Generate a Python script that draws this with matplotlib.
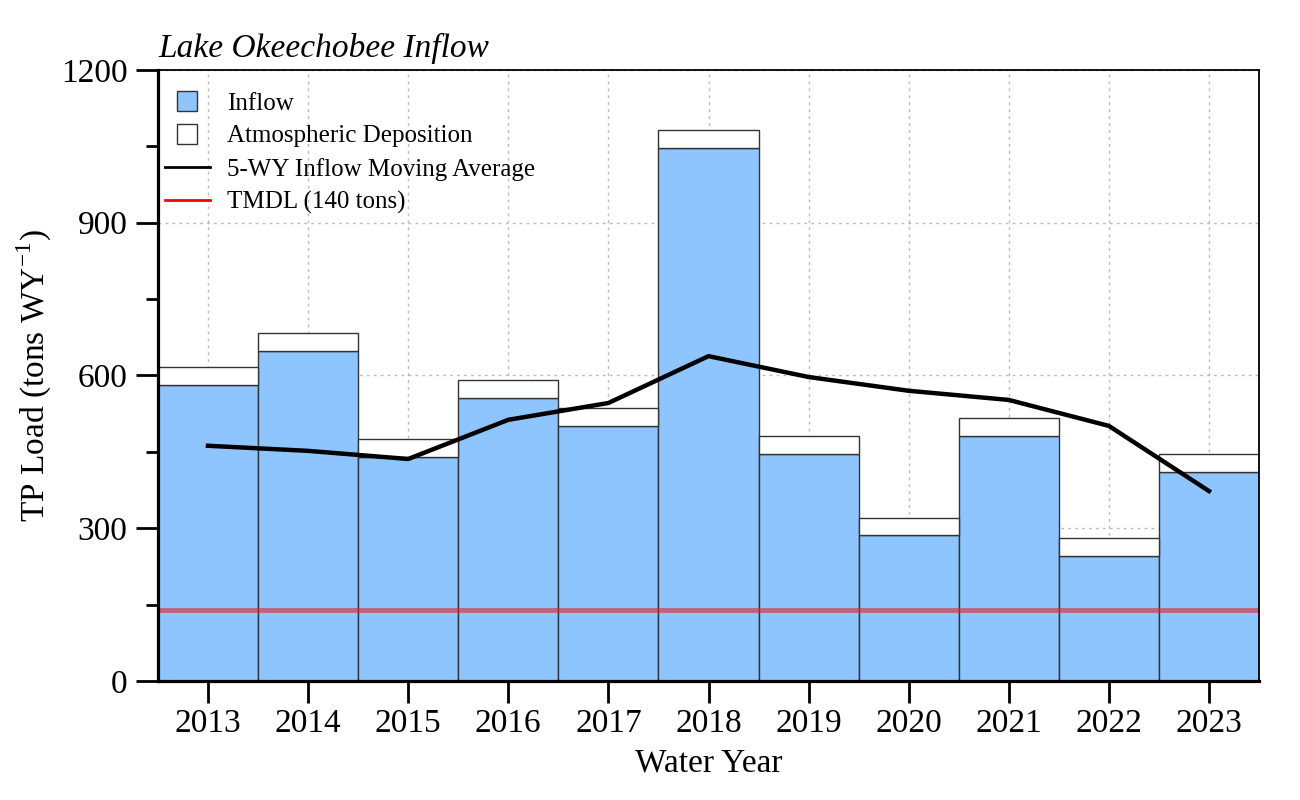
import numpy as np
import matplotlib
matplotlib.use("Agg")
import matplotlib.pyplot as plt
from matplotlib.lines import Line2D
from matplotlib.ticker import MultipleLocator

plt.rcParams["font.family"] = ["Liberation Serif", "DejaVu Serif"]
plt.rcParams["mathtext.fontset"] = "custom"
plt.rcParams["mathtext.rm"] = "Liberation Serif"

# values
years = [2013, 2014, 2015, 2016, 2017, 2018, 2019, 2020, 2021, 2022, 2023]
inflow = [581, 648, 440, 556, 501, 1047, 446, 287, 481, 245, 411]
atmos = [35, 35, 36, 35, 35, 35, 35, 34, 35, 35, 35]
moving_avg = [462, 452, 436, 513, 546, 638, 597, 570, 552, 501, 373]
tmdl = 140

fig = plt.figure(figsize=(13, 8), dpi=100)
ax = fig.add_axes([0.1215, 0.14875, 0.847, 0.76375])

ax.bar(years, inflow, width=1.0, color="#8fc5fe", edgecolor="#333333", linewidth=1.0, zorder=2)
ax.bar(years, atmos, bottom=inflow, width=1.0, color="white", edgecolor="#333333", linewidth=1.0, zorder=2)
ax.axhline(tmdl, color="#e0202a", alpha=0.6, linewidth=3.5, zorder=3)
ax.plot(years, moving_avg, color="black", linewidth=3.2, zorder=4)

ax.set_xlim(2012.5, 2023.5)
ax.set_ylim(0, 1200)
ax.set_xticks(years)
ax.yaxis.set_major_locator(MultipleLocator(300))
ax.yaxis.set_minor_locator(MultipleLocator(150))
ax.grid(True, which="major", color="#aaaaaa", linestyle=(0, (2, 3)), linewidth=1.0, alpha=0.8)
for gl in ax.get_xgridlines() + ax.get_ygridlines():
    gl.set_zorder(5)

ax.tick_params(axis="both", which="major", direction="out", length=16, width=2, labelsize=24, pad=6)
ax.tick_params(axis="y", which="minor", direction="out", length=9, width=2)
ax.tick_params(axis="x", which="major", pad=4)
for side, lw in [("left", 2.3), ("bottom", 2.3), ("top", 1.3), ("right", 1.3)]:
    ax.spines[side].set_linewidth(lw)
    ax.spines[side].set_zorder(7)

ax.set_xlabel("Water Year", fontsize=24, labelpad=6)
ax.set_ylabel("TP Load (tons WY$^{-1}$)", fontsize=24, labelpad=5)
ax.text(0.0, 1.01, "Lake Okeechobee Inflow", transform=ax.transAxes, fontsize=24,
        style="italic", ha="left", va="bottom")

handles = [
    Line2D([], [], linestyle="none", marker="s", markersize=14.5,
           markerfacecolor="#8fc5fe", markeredgecolor="#333333", markeredgewidth=1.0),
    Line2D([], [], linestyle="none", marker="s", markersize=14.5,
           markerfacecolor="white", markeredgecolor="#333333", markeredgewidth=1.0),
    Line2D([0], [0], color="black", linewidth=2),
    Line2D([0], [0], color="red", linewidth=2),
]
labels = ["Inflow", "Atmospheric Deposition", "5-WY Inflow Moving Average", "TMDL (140 tons)"]
ax.legend(handles, labels, loc="upper left", frameon=False, fontsize=18,
          handlelength=1.8, handletextpad=0.68, labelspacing=0.41,
          borderaxespad=0.0, bbox_to_anchor=(-0.003, 0.980))

fig.savefig("out.png", dpi=100)
